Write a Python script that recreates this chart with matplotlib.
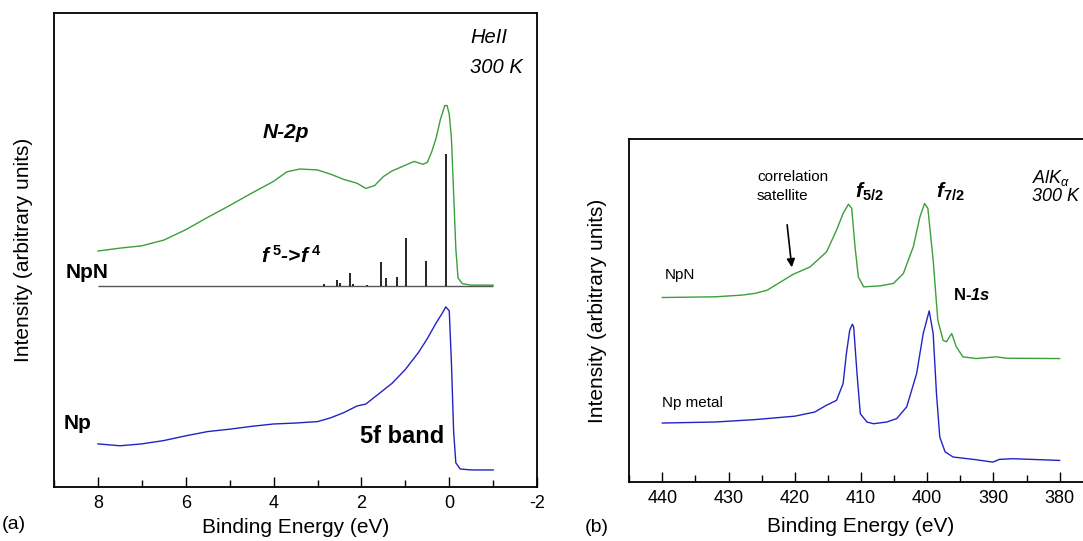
import matplotlib
matplotlib.use('Agg')
import matplotlib.pyplot as plt
from matplotlib.ticker import MultipleLocator
import numpy as np

plt.rcParams['font.family'] = ['Liberation Sans', 'DejaVu Sans']
plt.rcParams['axes.unicode_minus'] = False
plt.rcParams['mathtext.fontset'] = 'custom'
plt.rcParams['mathtext.rm'] = 'Liberation Sans'
plt.rcParams['mathtext.it'] = 'Liberation Sans:italic'
plt.rcParams['mathtext.bf'] = 'Liberation Sans:bold'
plt.rcParams['mathtext.bfit'] = 'Liberation Sans:italic:bold'

GREEN = '#3b9f3b'
BLUE = '#2323c4'

# ---- panel (a): HeII valence band ----
npn_e = [8, 7.5, 7, 6.5, 6, 5.5, 5, 4.5, 4, 3.7, 3.4, 3.0, 2.7, 2.4, 2.1, 1.9, 1.7, 1.5,
         1.3, 1.0, 0.8, 0.6, 0.5, 0.4, 0.3, 0.2, 0.1, 0.05, 0.0, -0.05, -0.1, -0.15,
         -0.2, -0.3, -0.5, -1.0]
npn_i = [49.8, 50.4, 50.9, 52.1, 54.3, 56.9, 59.4, 62.0, 64.5, 66.5, 67.1, 66.9, 66.0,
         64.9, 64.1, 63.0, 63.6, 65.5, 66.7, 67.9, 68.7, 68.1, 68.5, 70.7, 73.6, 77.6,
         80.5, 80.5, 78.7, 73.6, 62.0, 50.3, 44.1, 42.9, 42.6, 42.6]

np_e = [8, 7.5, 7, 6.5, 6, 5.5, 5, 4.5, 4, 3.5, 3, 2.7, 2.4, 2.1, 1.9, 1.6, 1.3, 1.0,
        0.7, 0.5, 0.3, 0.15, 0.08, 0.0, -0.05, -0.1, -0.15, -0.25, -0.5, -1.0]
np_i = [9.1, 8.7, 9.1, 9.8, 10.8, 11.7, 12.2, 12.8, 13.3, 13.5, 13.8, 14.6, 15.7, 17.1,
        17.5, 19.7, 21.9, 24.8, 28.4, 31.3, 34.6, 36.8, 38.0, 37.2, 26.2, 11.7, 5.1,
        3.8, 3.6, 3.6]

# calculated f5->f4 multiplet
stick_base = 42.4
stick_e = [0.08, 0.52, 0.98, 1.2, 1.44, 1.56, 1.87, 2.2, 2.27, 2.48, 2.56, 2.85]
stick_h = [27.9, 5.3, 10.1, 2.0, 1.8, 5.1, 0.2, 0.4, 2.8, 0.7, 1.2, 0.4]

# ---- panel (b): 4f core levels ----
npn4f_e = [440, 432, 428, 426, 424.2, 420.2, 417.7, 415.2, 413.7, 412.7, 411.9, 411.4,
           410.9, 410.4, 409.6, 407.1, 405.1, 403.6, 402.1, 401.1, 400.4, 399.9, 399.1,
           398.4, 397.6, 397.1, 396.3, 395.6, 394.6, 392.6, 389.6, 388, 380]
npn4f_i = [53.8, 54.0, 54.5, 55.0, 55.9, 60.6, 62.7, 67.1, 73.4, 78.3, 81.0, 79.8, 68.6,
           59.8, 56.9, 57.2, 57.9, 60.8, 68.6, 77.3, 81.2, 79.8, 64.7, 47.2, 41.3, 40.9,
           43.3, 39.4, 36.5, 36.0, 36.5, 36.1, 36.0]

np4f_e = [440, 432, 426, 420, 417, 415.2, 413.7, 412.7, 412.2, 411.7, 411.3, 411.1,
          410.6, 410.1, 409.1, 408.1, 406.1, 404.6, 403.1, 401.6, 400.6, 399.7, 399.1,
          398.6, 398.1, 397.3, 396.1, 392.6, 390.1, 389.1, 387.1, 380]
np4f_i = [17.2, 17.5, 18.2, 19.2, 20.4, 22.4, 23.8, 28.7, 37.5, 44.3, 46.0, 45.2, 31.6,
          19.9, 17.5, 17.0, 17.5, 18.5, 21.9, 31.6, 43.3, 49.9, 43.3, 25.8, 13.1, 8.8,
          7.3, 6.5, 5.8, 6.6, 6.8, 6.3]

fig = plt.figure(figsize=(10.83, 5.41), dpi=100)

# (a)
ax1 = fig.add_axes([0.0499, 0.0998, 0.446, 0.876])
ax1.plot(npn_e, npn_i, color=GREEN, lw=1.0)
ax1.plot(np_e, np_i, color=BLUE, lw=1.0)
ax1.hlines(stick_base, 8, -1, color='#555555', lw=1.0)
ax1.vlines(stick_e, stick_base, np.array(stick_h) + stick_base, color='black', lw=1.2)
ax1.set_xlim(9, -2)
ax1.set_ylim(0, 100)
ax1.xaxis.set_major_locator(MultipleLocator(2))
ax1.xaxis.set_minor_locator(MultipleLocator(1))
ax1.set_yticks([])
ax1.set_xlabel('Binding Energy (eV)', fontsize=15, labelpad=4)
ax1.set_ylabel('Intensity (arbitrary units)', fontsize=15, labelpad=15)

ax1.text(-0.48, 94.9, 'HeII', fontsize=14.5, style='italic', va='center')
ax1.text(-0.48, 88.6, '300 K', fontsize=14.5, style='italic', va='center')
ax1.text(3.73, 74.7, 'N-2p', fontsize=15, weight='bold', style='italic', ha='center', va='center')
ax1.text(4.28, 48.8, r'f$^{\ \mathbf{5}}$->f$^{\ \mathbf{4}}$', fontsize=15,
         weight='bold', style='italic', va='center')
ax1.text(8.73, 45.2, 'NpN', fontsize=15, weight='bold', va='center')
ax1.text(8.78, 13.5, 'Np', fontsize=15, weight='bold', va='center')
ax1.text(2.03, 10.6, '5f band', fontsize=17, weight='bold', va='center')

# (b)
ax2 = fig.add_axes([0.581, 0.109, 0.428, 0.634])
ax2.plot(npn4f_e, npn4f_i, color=GREEN, lw=1.0)
ax2.plot(np4f_e, np4f_i, color=BLUE, lw=1.0)
ax2.set_xlim(445, 375)
ax2.set_ylim(0, 100)
ax2.xaxis.set_major_locator(MultipleLocator(10))
ax2.xaxis.set_minor_locator(MultipleLocator(5))
ax2.set_yticks([])
ax2.set_xlabel('Binding Energy (eV)', fontsize=15, labelpad=7)
ax2.set_ylabel('Intensity (arbitrary units)', fontsize=15, labelpad=16)

ax2.text(425.7, 88.8, 'correlation', fontsize=11, va='center')
ax2.text(425.7, 83.4, 'satellite', fontsize=11, va='center')
ax2.annotate('', xy=(420.4, 61.8), xytext=(421.2, 75.8),
             arrowprops=dict(arrowstyle='-|>', color='black', lw=1.2, mutation_scale=12))
ax2.text(410.9, 84.6, r'f$_{\mathbf{5/2}}$', fontsize=15, weight='bold', style='italic',
         va='center')
ax2.text(398.6, 84.6, r'f$_{\mathbf{7/2}}$', fontsize=15, weight='bold', style='italic',
         va='center')
ax2.text(396.1, 54.5, r'N-$\mathbfit{1s}$', fontsize=12, weight='bold', va='center')
ax2.text(384.1, 88.5, r'$\mathit{AlK}_{\alpha}$', fontsize=13, va='center')
ax2.text(384.1, 83.2, '300 K', fontsize=13, style='italic', va='center')
ax2.text(439.7, 60.3, 'NpN', fontsize=11, va='center')
ax2.text(440, 22.9, 'Np metal', fontsize=11, va='center')

for ax in (ax1, ax2):
    for s in ax.spines.values():
        s.set_linewidth(1.3)
    ax.tick_params(axis='x', which='major', direction='in', length=7, width=1.0,
                   labelsize=13, pad=6)
    ax.tick_params(axis='x', which='minor', direction='in', length=5, width=1.0)

fig.text(0.002, 0.030, '(a)', fontsize=14, va='center')
fig.text(0.540, 0.025, '(b)', fontsize=14, va='center')

fig.savefig('out.png', dpi=100)
